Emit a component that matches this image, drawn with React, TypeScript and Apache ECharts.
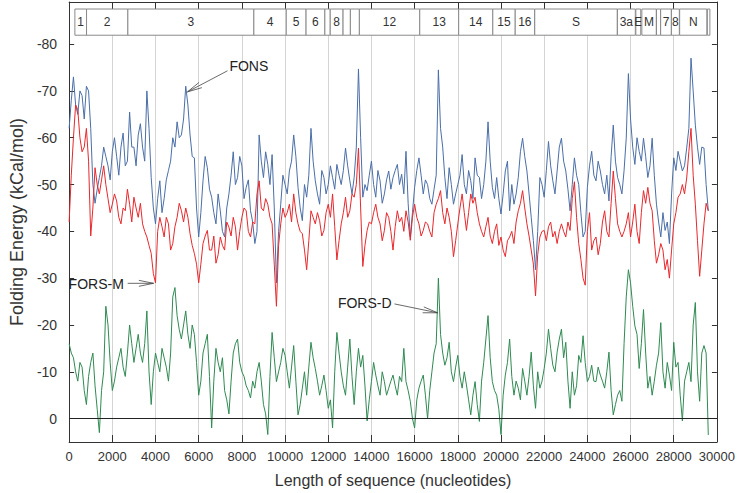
import React, { useEffect, useRef } from "react";
import * as echarts from "echarts";

// profiles are read at 0, 200, 400, ... (main) and 100, 300, 500, ... (mid) nucleotides
const STEP = 200;

// FONS (blue) at 0, 200, ..., 29600
const fons = [
  -62, -73, -65, -69, -71, -62, -46, -51.5, -58, -54,
  -57, -56, -58, -54, -65.5, -58, -60.6, -58, -70, -51.5,
  -41.6, -50.8, -47, -53, -60, -63.4, -60.6, -71, -60.6, -55.7,
  -38.8, -50.8, -53.6, -47.3, -41.6, -44.4, -38.8, -48, -57, -51.5,
  -54, -49.4, -44.4, -37.4, -60.6, -51.5, -54.3, -56.4, -29, -45.8,
  -50, -52.9, -60.6, -49.4, -42.3, -47.3, -62, -50.8, -45.8, -51.5,
  -50, -51.5, -54.3, -50, -57.8, -50.8, -51.5, -74.7, -47.3, -48.7,
  -55, -47.3, -50.8, -48, -52.9, -51.5, -54.3, -52.2, -57.1, -38.8,
  -49.4, -55.7, -48, -50, -45.8, -52, -62, -51.5, -53.6, -45.8,
  -50, -56.4, -48, -50.8, -55.7, -51.5, -50, -63.4, -49.4, -51.5,
  -43.7, -52.9, -44.4, -45.8, -51.5, -59.9, -52.9, -43, -31.8, -51.5,
  -47.3, -59.2, -50.8, -52.9, -59.9, -52.9, -44.4, -55.7, -50, -38.8,
  -49.4, -57.1, -50.8, -52.9, -48, -46.5, -62.7, -51.5, -48, -59.9,
  -64, -54.3, -57.1, -59.9, -51.5, -59.9, -45.8, -38.8, -40.2, -37.4,
  -55.7, -57.1, -52.9, -57.8, -77, -62.7, -54.3, -57.8, -44.4,
];
// FONS at 100, 300, ..., 29500
const fonsMid = [
  -68, -67, -70, -64, -70, -50, -49, -54, -56, -51,
  -60, -52, -61, -55, -58, -54, -63, -55, -62, -45,
  -47, -44, -51, -55, -58, -60, -64, -67, -56, -45,
  -44, -56, -49, -44, -48, -40, -45, -52, -50, -56,
  -47, -51, -42, -40, -55, -57, -50, -45, -40, -52,
  -48, -55, -56, -45, -50, -52, -55, -48, -53, -48,
  -54, -49, -52, -53, -54, -48, -58, -60, -50, -52,
  -50, -53, -46, -51, -49, -53, -50, -48, -46, -44,
  -53, -52, -51, -47, -49, -74.5, -58, -47, -50, -48,
  -52, -50, -53, -47, -52, -47, -55, -55, -47, -47,
  -48, -55, -50, -48, -57, -56, -48, -38, -40, -50,
  -53, -54, -48, -58, -55, -49, -50, -52, -44, -40,
  -54, -52, -55, -50, -52, -56, -55, -50, -53, -73.7,
  -58, -60, -55, -56, -54, -52, -42, -44, -42, -48,
  -53, -55, -54, -62, -70, -58, -58, -50,
];

// FORS-M (red)
const forsM = [
  -42, -60, -66, -57, -62, -39, -53.6, -48, -54, -47,
  -45.8, -46.5, -41.6, -44.4, -45.8, -47.3, -43, -41.6, -38.8, -35.3,
  -29, -43, -38.8, -41.6, -37.4, -43, -44.4, -45, -39.5, -35.3,
  -29, -37.4, -40.2, -36, -33.2, -38.8, -36, -40.9, -43, -36,
  -43, -44.4, -38.8, -41.6, -50.8, -44.4, -45.8, -41.6, -24, -41.6,
  -43, -45.8, -48, -41.6, -39.5, -31.8, -44.4, -41.6, -42.3, -40.2,
  -45.8, -48, -33.9, -41.6, -47.3, -44.4, -47.3, -57.8, -32.5, -40.2,
  -41.6, -45.8, -41.6, -40.2, -43, -36, -44.4, -43, -44.4, -38.1,
  -45.8, -41.6, -40.2, -41.6, -38.8, -45.8, -48.7, -41.6, -43, -34.6,
  -41.6, -48, -40.2, -48, -47.3, -41.6, -38.8, -43, -37.4, -41.6,
  -38.8, -34.6, -38.8, -37.4, -44.4, -48.7, -41.6, -36, -26.2, -38.8,
  -40.2, -41, -38.8, -37.4, -41.6, -38.8, -40.2, -50.6, -37.4, -30,
  -40, -36, -38.8, -37.4, -44.4, -38.8, -52.9, -41.6, -38.8, -41.6,
  -38.8, -45.8, -37.4, -48.7, -49.4, -44.4, -33.2, -37.4, -31.8, -30,
  -41.6, -47.3, -50, -51.4, -62, -45.8, -30.4, -41.6, -44.4,
];
const forsMMid = [
  -52, -67, -60, -58, -55, -45, -50, -51, -50, -44,
  -48, -43, -45, -49, -42, -45, -46, -40, -37, -31,
  -40, -41, -43, -36, -41, -46, -42, -43, -37, -33,
  -33, -39, -36, -39, -35, -37, -42, -39, -41, -40,
  -45, -40, -42, -48, -45, -47, -43, -33, -37, -45,
  -44, -42, -44, -40, -36, -38, -43, -44, -39, -44,
  -43, -41, -38, -44, -43, -48, -50, -45, -37, -42,
  -44, -43, -38, -44, -40, -41, -42, -40, -42, -43,
  -43, -39, -42, -40, -44, -47, -44, -45, -40, -38,
  -45, -44, -44, -46, -44, -40, -41, -39, -40, -37,
  -36, -38, -40, -42, -46, -45, -39, -33, -35, -40,
  -38, -42, -40, -40, -40, -42, -47, -43, -34, -28.5,
  -44, -38, -35, -42, -40, -46, -47, -40, -40, -44,
  -42, -40, -44, -46, -46, -38, -35, -36, -34, -36,
  -44, -48, -48, -57, -52, -38, -36, -46,
];

// FORS-D (green)
const forsD = [
  -16, -13, -8, -11, -3, -12, -7, 3, -10, -20,
  -6, -11, -15, -9, -20, -12, -18, -12, -23, -3,
  -14, -10, -13, -8, -26, -22, -17, -23, -15, -18,
  -5, -14, -18, 2, -15, -10, -6, -1, -14, -17,
  -10, -7, -4.4, -6.5, -12, -3, 3.4, -18.4, -7.9, -12,
  -13.5, -6.5, -15.6, -0.8, -6.5, -5, -16.3, -10.7, -5, -9.3,
  -2.2, 2, -18.4, -10, -5, -17, -3, -15, -13.5, 0.5,
  -7.9, -9.3, -5, -7.9, -6.5, -9.3, -5, -7.9, -7.9, -3.7,
  2, -6.5, -9.3, 0, -10, -16, -18, -11.4, -16.3, -7.9,
  -13.5, -6.5, -7.2, -0.8, -7.9, 0.6, -12, -22, -7.9, -5,
  3.4, -9.3, -17, -5, -6.5, -10.7, -5, -14.2, -2.2, -6.5,
  -10.7, -19.1, -11.4, -14.2, -19.1, -16.3, -2.2, -5, -13.5, -17.7,
  -7.9, -11.4, -7.9, -9.3, -6.5, -14.2, -0.8, -5, -3.7, -26,
  -29, -19.8, -10.7, -23.3, -6.5, -5, -11.4, -20.5, -6.5, -9.3,
  -16.3, -12, 0.5, -10, -7.9, -24.8, -3.7, -15.6, 3.5,
];
const forsDMid = [
  -14, -10, -12, -6, -9, -14, -2, -6, -24, -12,
  -8, -13, -11, -14, -16, -15, -14, -16, -10, -10,
  -12, -15, -11, -14, -28, -19, -20, -18, -20, -12,
  -8, -16, -9, -8, -12, -13, -4, -8, -16, -12,
  -9, -6, -8, -10, -8, -1, -9, -13, -10, -15,
  -10, -11, -8, -3, -10, -11, -13, -8, -7, -6,
  -4, -10, -14, -7, -11, -9, -10, -11, -7, -4,
  -12, -7, -10, -5, -8, -7, -9, -15, -6, 0,
  -4, -8, -5, -6, -14, -30, -14, -13, -10, -11,
  -9, -10, -4, -5, -3, -8, -17, -13, -6, -2,
  -5, -12, -9, -8, -4, -8, -9, -7, -10, -8,
  -14, -15, -10, -17, -13, -8, -10, -7, -12, -12,
  -9, -8, -11, -8, -10, -6, -3, -6, -16, -31.8,
  -24, -18, -16, -14, -9, -8, -14, -10, -12, -6,
  -11, -5, -8, -12, -20, -10, -14, -14,
];

// genome map (start, end, label)
const geneStart = [266, 806, 2720, 8555, 10055, 10973, 11843, 12092, 12686, 13025, 13442, 16237, 18040, 19621, 20659, 21563, 25393, 26245, 26523, 27202, 27394, 27894, 28274, 29558];
const geneEnd = [805, 2719, 8554, 10054, 10972, 11842, 12091, 12685, 13024, 13441, 16236, 18039, 19620, 20658, 21552, 25384, 26220, 26472, 27191, 27387, 27887, 28259, 29533, 29674];
const geneLabel = ["1", "2", "3", "4", "5", "6", "", "8", "", "", "12", "13", "14", "15", "16", "S", "3a", "E", "M", "", "7", "8", "N", ""];

const yTicks = [-80, -70, -60, -50, -40, -30, -20, -10, 0];

// annotations: label, text anchor, line start, arrow tip (data units)
const annLabel = ["FONS", "FORS-M", "FORS-D"];
const annAlign = ["left", "right", "right"];
const annText = [[7422, -75.3], [2533, -28.8], [14933, -24.7]];
const annFrom = [[7333, -74.3], [2711, -28.9], [15066, -24.5]];
const annTip = [[5480, -69.8], [3911, -28.9], [17066, -22.6]];

const FONT = "'Liberation Sans', Arial, sans-serif";

export default function App() {
  const ref = useRef<HTMLDivElement>(null);
  useEffect(() => {
    const chart = echarts.init(ref.current!, null, { renderer: "svg" });
    const merge = (a: number[], b: number[]) =>
      a.flatMap((v, i) => (i < b.length ? [[i * STEP, v], [i * STEP + STEP / 2, b[i]]] : [[i * STEP, v]]));
    const yCommon = {
      type: "value",
      inverse: true,
      min: -89,
      max: 5,
      axisLine: { show: true, onZero: false, lineStyle: { color: "#333", width: 1 } },
      axisTick: { show: true, inside: true, length: 5, customValues: yTicks, lineStyle: { color: "#333" } },
      splitLine: { show: false },
    };
    const xCommon = {
      type: "value",
      min: 0,
      max: 30000,
      interval: 2000,
      axisLine: { show: true, onZero: false, lineStyle: { color: "#333", width: 1 } },
      axisTick: { show: true, inside: true, length: 7, lineStyle: { color: "#333" } },
    };
    const option: any = {
      animation: false,
      backgroundColor: "#fff",
      grid: { left: 45, right: 18, top: 2, bottom: 45 },
      xAxis: [
        {
          ...xCommon,
          position: "bottom",
          axisLabel: {
            color: "#333", fontSize: 13, fontFamily: FONT, margin: 8,
            showMinLabel: true, showMaxLabel: true,
            formatter: (v: number) => String(v),
          },
          splitLine: { show: true, lineStyle: { color: "#d4d4d4", width: 1 } },
          name: "Length of sequence (nucleotides)",
          nameLocation: "middle",
          nameGap: 30,
          nameTextStyle: { color: "#333", fontSize: 16, fontFamily: FONT },
        },
        {
          ...xCommon,
          position: "top",
          axisLabel: { show: false },
          splitLine: { show: false },
        },
      ],
      yAxis: [
        {
          ...yCommon,
          position: "left",
          axisLabel: { customValues: yTicks, color: "#333", fontSize: 14, fontFamily: FONT, margin: 12, formatter: (v: number) => String(v) },
          name: "Folding Energy (kCal/mol)",
          nameLocation: "middle",
          nameRotate: 90,
          nameGap: 30,
          nameTextStyle: { color: "#333", fontSize: 18, fontFamily: FONT },
        },
        {
          ...yCommon,
          position: "right",
          axisLabel: { show: false },
        },
      ],
      series: [
        {
          type: "line",
          data: merge(forsD, forsDMid),
          showSymbol: false,
          lineStyle: { color: "#2f8a52", width: 1 },
          itemStyle: { color: "#2f8a52" },
          markLine: {
            silent: true,
            symbol: ["none", "none"],
            label: { show: false },
            lineStyle: { color: "#222", width: 1, type: "solid" },
            data: [{ yAxis: 0 }],
          },
        },
        {
          type: "line",
          data: merge(fons, fonsMid),
          showSymbol: false,
          lineStyle: { color: "#4a6ea8", width: 1 },
          itemStyle: { color: "#4a6ea8" },
        },
        {
          type: "line",
          data: merge(forsM, forsMMid),
          showSymbol: false,
          lineStyle: { color: "#e8282c", width: 1 },
          itemStyle: { color: "#e8282c" },
        },
        {
          type: "custom",
          z: 5,
          clip: false,
          data: geneStart.map((s, i) => [s, geneEnd[i]]),
          encode: { x: [0, 1] },
          renderItem: (params: any, api: any) => {
            const a = api.coord([api.value(0), -87.5]);
            const b = api.coord([api.value(1), -81.9]);
            const label = geneLabel[params.dataIndex];
            return {
              type: "group",
              children: [
                {
                  type: "rect",
                  shape: { x: a[0], y: a[1], width: b[0] - a[0], height: b[1] - a[1] },
                  style: { fill: "#fff", stroke: "#8a8a8a", lineWidth: 1 },
                },
                {
                  type: "text",
                  style: {
                    text: label,
                    x: (a[0] + b[0]) / 2,
                    y: (a[1] + b[1]) / 2,
                    align: "center",
                    verticalAlign: "middle",
                    fontSize: 12,
                    fontFamily: FONT,
                    fill: "#333",
                  },
                },
              ],
            };
          },
        },
        {
          type: "custom",
          z: 6,
          clip: false,
          data: annText.map((t) => [t[0], t[1]]),
          encode: { x: 0, y: 1 },
          renderItem: (params: any, api: any) => {
            const i = params.dataIndex;
            const t = api.coord(annText[i]);
            const f = api.coord(annFrom[i]);
            const p = api.coord(annTip[i]);
            const ang = Math.atan2(f[1] - p[1], f[0] - p[0]);
            const L = 15;
            const sp = 0.2;
            const h1 = [p[0] + L * Math.cos(ang + sp), p[1] + L * Math.sin(ang + sp)];
            const h2 = [p[0] + L * Math.cos(ang - sp), p[1] + L * Math.sin(ang - sp)];
            const ls = { stroke: "#444", lineWidth: 0.8 };
            return {
              type: "group",
              children: [
                { type: "line", shape: { x1: f[0], y1: f[1], x2: p[0], y2: p[1] }, style: ls },
                { type: "line", shape: { x1: p[0], y1: p[1], x2: h1[0], y2: h1[1] }, style: ls },
                { type: "line", shape: { x1: p[0], y1: p[1], x2: h2[0], y2: h2[1] }, style: ls },
                {
                  type: "text",
                  style: {
                    text: annLabel[i],
                    x: t[0],
                    y: t[1],
                    align: annAlign[i],
                    verticalAlign: "middle",
                    fontSize: 14,
                    fontFamily: FONT,
                    fill: "#222",
                  },
                },
              ],
            };
          },
        },
      ],
    };
    chart.setOption(option);
    return () => chart.dispose();
  }, []);
  return <div ref={ref} style={{ position: "absolute", left: 0, top: 0, width: 738, height: 493 }} />;
}
